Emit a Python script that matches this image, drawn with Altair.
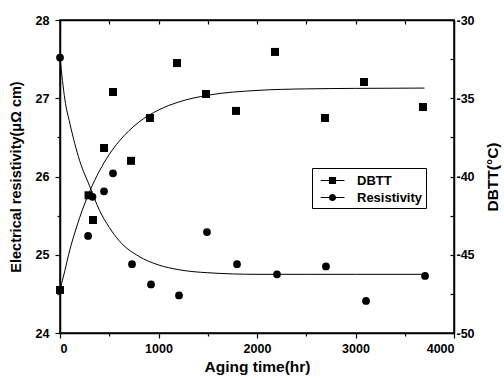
import altair as alt
import pandas as pd

# ---- data ----
hours_res = [0, 285, 330, 447, 538, 731, 924, 1208, 1492, 1797, 2203, 2700, 3107, 3706]
resistivity = [27.52, 25.24, 25.74, 25.81, 26.04, 24.88, 24.62, 24.48, 25.29, 24.88, 24.75, 24.85, 24.41, 24.73]

hours_dbtt = [0, 290, 335, 447, 538, 721, 913, 1188, 1482, 1787, 2183, 2690, 3086, 3685]
dbtt = [-47.25, -41.2, -42.78, -38.18, -34.6, -39.0, -36.26, -32.75, -34.73, -35.81, -32.04, -36.26, -33.96, -35.56]

fit_hours = [0, 50, 100, 150, 200, 300, 400, 500, 600, 800, 1000, 1200, 1500, 2000, 2500, 3000, 3700]
res_fit = [27.52, 26.98, 26.68, 26.42, 26.2, 25.88, 25.57, 25.35, 25.18, 24.98, 24.87, 24.81, 24.77, 24.75, 24.75, 24.75, 24.75]
dbtt_fit = [-47.25, -46.0, -44.68, -43.6, -42.62, -40.97, -39.65, -38.59, -37.75, -36.53, -35.75, -35.25, -34.81, -34.5, -34.4, -34.37, -34.35]

series_names = ["DBTT", "Resistivity"]

x_ticks = [0, 500, 1000, 1500, 2000, 2500, 3000, 3500, 4000]
left_ticks = [24, 24.5, 25, 25.5, 26, 26.5, 27, 27.5, 28]
right_ticks = [-50, -47.5, -45, -42.5, -40, -37.5, -35, -32.5, -30]

res_df = pd.DataFrame({"hours": hours_res, "value": resistivity})
dbtt_df = pd.DataFrame({"hours": hours_dbtt, "value": dbtt, "series": "DBTT"})
res_fit_df = pd.DataFrame({"hours": fit_hours, "value": res_fit})
dbtt_fit_df = pd.DataFrame({"hours": fit_hours, "value": dbtt_fit})

FONT = "Liberation Sans"

xscale = alt.Scale(domain=[0, 4000], nice=False, zero=False)
lscale = alt.Scale(domain=[24, 28], nice=False, zero=False)
rscale = alt.Scale(domain=[-50, -30], nice=False, zero=False)

x_bottom = alt.Axis(
    orient="bottom", values=x_ticks, title="Aging time(hr)",
    labelExpr="datum.value % 1000 === 0 ? '' + datum.value : ''",
    tickSize={"condition": {"test": "datum.value % 1000 !== 0", "value": 3}, "value": 5},
    labelPadding=4, titlePadding=5, grid=False,
)
x_top = alt.Axis(
    orient="top", values=x_ticks, title=None, labels=False,
    tickSize=alt.ExprRef("-4"), grid=False,
)
y_left = alt.Axis(
    orient="left", values=left_ticks, title="Electrical resistivity(\u03bc\u03a9 cm)",
    labelExpr="datum.value % 1 === 0 ? '' + datum.value : ''",
    tickSize={"condition": {"test": "datum.value % 1 !== 0", "value": 3}, "value": 5},
    labelPadding=6, titlePadding=12, titleFontSize=14.5, grid=False,
)
y_right = alt.Axis(
    orient="right", values=right_ticks, title="DBTT(\u00b0C)",
    labelExpr="datum.value % 5 === 0 ? '-' + abs(datum.value) : ''",
    tickSize=alt.ExprRef("-4"), labelPadding=6, titlePadding=26,
    titleAngle=270, grid=False,
)

# legend symbols: a short line with a square / circle on it
sq_path = ("M-0.45,-0.06H2.35V0.06H-0.45Z "
           "M0.52,-0.42H1.36V0.42H0.52Z")
circ_path = ("M-0.45,-0.06H2.35V0.06H-0.45Z "
             "M0.52,0A0.42,0.42 0 1,1 1.36,0A0.42,0.42 0 1,1 0.52,0Z")

res_line = alt.Chart(res_fit_df).mark_line(color="black", strokeWidth=1, interpolate="monotone").encode(
    x=alt.X("hours:Q", scale=xscale, axis=x_bottom),
    y=alt.Y("value:Q", scale=lscale, axis=y_left),
)
res_pts = alt.Chart(res_df).mark_point(shape="circle", filled=True, size=60, color="black", opacity=1).encode(
    x=alt.X("hours:Q", scale=xscale, axis=None),
    y=alt.Y("value:Q", scale=lscale, axis=None),
)
dbtt_line = alt.Chart(dbtt_fit_df).mark_line(color="black", strokeWidth=1, interpolate="monotone").encode(
    x=alt.X("hours:Q", scale=xscale, axis=x_top),
    y=alt.Y("value:Q", scale=rscale, axis=y_right),
)
dbtt_pts = alt.Chart(dbtt_df).mark_point(shape="square", filled=True, size=64, color="black", opacity=1).encode(
    x=alt.X("hours:Q", scale=xscale, axis=None),
    y=alt.Y("value:Q", scale=rscale, axis=None),
)
legend_layer = alt.Chart(dbtt_df).mark_point(filled=True, color="black", opacity=0, size=289).encode(
    x=alt.X("hours:Q", scale=xscale, axis=None),
    y=alt.Y("value:Q", scale=rscale, axis=None),
    shape=alt.Shape(
        "series:N",
        scale=alt.Scale(domain=series_names, range=[sq_path, circ_path]),
        legend=alt.Legend(
            title=None, orient="none", legendX=252, legendY=148,
            strokeColor="black", fillColor="white", padding=3,
            symbolSize=289, symbolFillColor="black", symbolOpacity=1,
            labelFont=FONT, labelFontWeight="bold", labelFontSize=13,
            labelColor="black", rowPadding=0, labelOffset=23,
        ),
    ),
)

chart = alt.layer(res_line, res_pts, dbtt_line, dbtt_pts, legend_layer).resolve_scale(
    y="independent"
).resolve_axis(
    x="independent", y="independent"
).properties(
    width=394, height=313,
    autosize=alt.AutoSizeParams(type="none"),
    padding={"left": 60, "top": 20, "right": 50, "bottom": 47},
    background="white",
).configure_view(
    stroke="black", strokeWidth=1.5
).configure_axis(
    domainColor="black", domainWidth=1.5, tickColor="black", tickWidth=1.2,
    labelFont=FONT, labelFontWeight="bold", labelFontSize=12.5, labelColor="black",
    titleFont=FONT, titleFontWeight="bold", titleFontSize=15.5, titleColor="black",
)

chart.save("out.html", embed_options={"renderer": "svg", "actions": False})
